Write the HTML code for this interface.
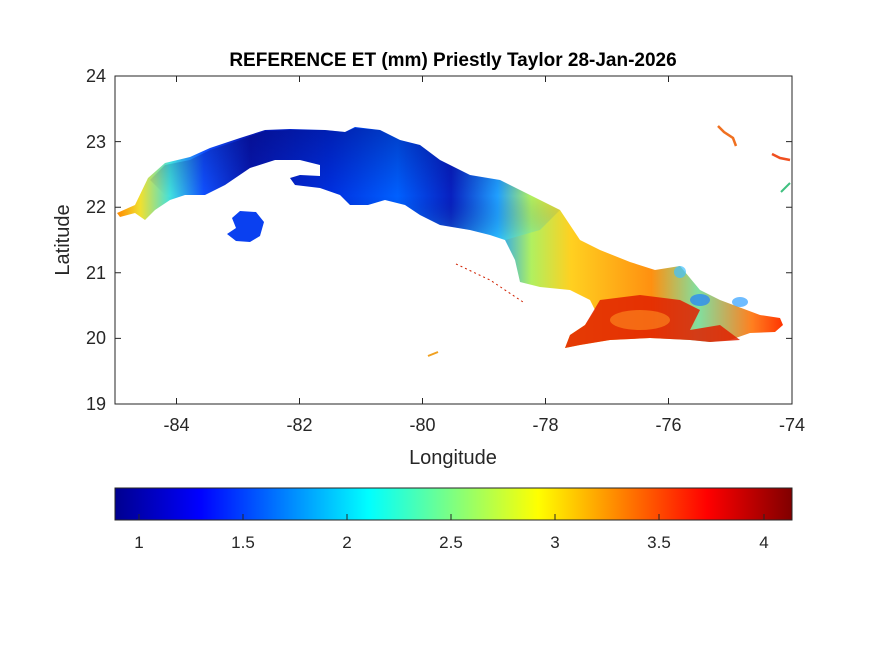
<!DOCTYPE html>
<html><head><style>body{margin:0;background:#fff}svg{display:block}</style></head><body>
<svg width="875" height="656" xmlns="http://www.w3.org/2000/svg" font-family="Liberation Sans, sans-serif">
<defs>
<linearGradient id="jet" x1="0" x2="1" y1="0" y2="0">
<stop offset="0" stop-color="#00008f"/><stop offset="0.125" stop-color="#0000ff"/><stop offset="0.375" stop-color="#00ffff"/><stop offset="0.625" stop-color="#ffff00"/><stop offset="0.875" stop-color="#ff0000"/><stop offset="1" stop-color="#800000"/>
</linearGradient>
<linearGradient id="isl" gradientUnits="userSpaceOnUse" x1="117" x2="785" y1="0" y2="0">
<stop offset="0" stop-color="#ff8a00"/>
<stop offset="0.035" stop-color="#f0e030"/>
<stop offset="0.08" stop-color="#40e0e0"/>
<stop offset="0.13" stop-color="#1050ff"/>
<stop offset="0.2" stop-color="#0818b0"/>
<stop offset="0.32" stop-color="#0030e0"/>
<stop offset="0.42" stop-color="#0060ff"/>
<stop offset="0.5" stop-color="#0820c0"/>
<stop offset="0.57" stop-color="#20a0ff"/>
<stop offset="0.62" stop-color="#b0f060"/>
<stop offset="0.68" stop-color="#ffd020"/>
<stop offset="0.8" stop-color="#ff9010"/>
<stop offset="0.87" stop-color="#80e0a0"/>
<stop offset="0.95" stop-color="#ff8020"/>
<stop offset="1" stop-color="#ff3000"/>
</linearGradient>
<linearGradient id="vert" gradientUnits="userSpaceOnUse" x1="0" x2="0" y1="130" y2="240">
<stop offset="0" stop-color="#000060" stop-opacity="0.35"/><stop offset="0.6" stop-color="#000060" stop-opacity="0"/><stop offset="1" stop-color="#40ffff" stop-opacity="0.3"/>
</linearGradient>
</defs>
<text x="453" y="66" text-anchor="middle" font-size="19" font-weight="bold" fill="#000">REFERENCE ET (mm) Priestly Taylor 28-Jan-2026</text>
<polygon fill="url(#isl)" points="117,213 135,205 148,178 165,163 190,157 210,148 240,138 265,130 290,129 325,130 345,132 355,127 380,130 400,140 420,145 440,160 470,175 500,180 520,190 540,200 560,210 570,225 580,240 600,250 630,262 655,270 680,266 690,278 700,290 720,300 760,315 780,318 783,325 775,332 750,333 730,340 710,342 690,340 650,338 610,340 580,345 565,348 570,335 585,325 595,310 590,300 570,290 540,287 520,282 515,260 505,240 490,235 470,230 440,225 420,215 405,205 385,200 368,205 350,205 340,195 320,188 295,185 290,178 300,175 320,176 320,165 300,160 275,160 250,168 225,185 205,195 185,195 170,200 155,210 145,220 135,213 120,217"/>
<polygon fill="url(#vert)" points="150,180 165,165 190,160 210,150 240,140 265,131 290,130 325,130 345,132 355,128 380,130 400,140 420,145 440,160 470,175 500,180 520,190 540,200 560,210 540,230 505,240 490,235 470,230 440,225 420,215 405,205 385,200 368,205 350,205 340,195 320,188 295,185 290,178 300,175 320,176 320,165 300,160 275,160 250,168 225,185 205,195 185,195 170,200"/>
<polygon fill="#e02000" opacity="0.85" points="565,348 570,335 585,325 600,300 640,295 680,300 700,310 690,330 720,325 740,340 710,342 690,340 650,338 610,340 580,345"/>
<ellipse cx="640" cy="320" rx="30" ry="10" fill="#ff9020" opacity="0.6"/>
<ellipse cx="700" cy="300" rx="10" ry="6" fill="#2080ff" opacity="0.7"/>
<ellipse cx="740" cy="302" rx="8" ry="5" fill="#30a0ff" opacity="0.7"/>
<ellipse cx="680" cy="272" rx="6" ry="6" fill="#40c0ff" opacity="0.7"/>
<polygon fill="#0a40f0" points="232,218 240,211 256,212 264,222 260,236 250,242 236,241 227,234 236,228"/>
<polyline points="718,126 724,132 733,138 736,146" fill="none" stroke="#f07020" stroke-width="2.5"/>
<polyline points="772,154 780,158 790,160" fill="none" stroke="#f05020" stroke-width="2.5"/>
<polyline points="781,192 790,183" fill="none" stroke="#40c080" stroke-width="2"/>
<polyline points="456,264 490,280 523,302" fill="none" stroke="#d02000" stroke-width="1" stroke-dasharray="2,3"/>
<line x1="428" y1="356" x2="438" y2="352" stroke="#f0a020" stroke-width="2"/>
<rect x="115" y="76" width="677" height="328" fill="none" stroke="#262626" stroke-width="1"/>
<g stroke="#262626" stroke-width="1">
<path d="M176.5,404v-6M299.5,404v-6M422.5,404v-6M545.5,404v-6M668.5,404v-6M176.5,76v6M299.5,76v6M422.5,76v6M545.5,76v6M668.5,76v6"/>
<path d="M115,141.6h6M115,207.2h6M115,272.8h6M115,338.4h6M792,141.6h-6M792,207.2h-6M792,272.8h-6M792,338.4h-6"/>
</g>
<g font-size="18" fill="#262626" text-anchor="end">
<text x="106" y="82">24</text><text x="106" y="148">23</text><text x="106" y="213">22</text><text x="106" y="279">21</text><text x="106" y="344">20</text><text x="106" y="410">19</text>
</g>
<g font-size="18" fill="#262626" text-anchor="middle">
<text x="176.5" y="431">-84</text><text x="299.5" y="431">-82</text><text x="422.5" y="431">-80</text><text x="545.5" y="431">-78</text><text x="668.5" y="431">-76</text><text x="792" y="431">-74</text>
</g>
<text x="453" y="464" text-anchor="middle" font-size="20" fill="#262626">Longitude</text>
<text transform="translate(69,240) rotate(-90)" text-anchor="middle" font-size="20" fill="#262626">Latitude</text>
<rect x="115" y="488" width="677" height="32" fill="url(#jet)" stroke="#262626" stroke-width="1"/>
<g stroke="#262626" stroke-width="1"><path d="M139,520v-6M243,520v-6M347,520v-6M451,520v-6M555,520v-6M659,520v-6M764,520v-6"/></g>
<g font-size="17" fill="#262626" text-anchor="middle">
<text x="139" y="548">1</text><text x="243" y="548">1.5</text><text x="347" y="548">2</text><text x="451" y="548">2.5</text><text x="555" y="548">3</text><text x="659" y="548">3.5</text><text x="764" y="548">4</text>
</g>
</svg>
</body></html>
